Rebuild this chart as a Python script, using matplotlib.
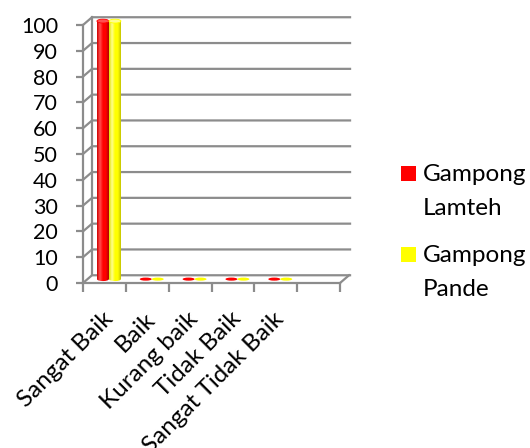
import numpy as np
import matplotlib
matplotlib.use('Agg')
import matplotlib.pyplot as plt
from matplotlib.patches import Ellipse, Rectangle
from matplotlib.colors import LinearSegmentedColormap
import matplotlib.transforms as mtransforms

plt.rcParams['font.family'] = ['Lato', 'DejaVu Sans']

categories = ['Sangat Baik', 'Baik', 'Kurang baik', 'Tidak Baik', 'Sangat Tidak Baik']
lamteh = [100, 0, 0, 0, 0]
pande = [100, 0, 0, 0, 0]
series_names = ['Gampong Lamteh', 'Gampong Pande']
y_ticks = np.arange(0, 101, 10)
n_slots = 6

# colours: base, left edge, highlight, right edge
shades = [('#ff0000', '#d00000', '#ff5050', '#b00000'),
          ('#ffff00', '#e0e000', '#ffff90', '#c4c400')]
grid_color = '#8c8c8c'
depth_x, depth_y = 0.21, 3.0   # offset of the back wall in data units
bar_w = 0.28


def cylinder(ax, xc, value, shade):
    base, left, light, right = shade
    yb = depth_y / 2
    cap = 1.5
    if value <= 0:
        ax.add_patch(Ellipse((xc, yb), bar_w, cap * 0.8, facecolor=base,
                             edgecolor='none', zorder=3))
        return
    cmap = LinearSegmentedColormap.from_list('cyl', [left, light, base, base, right])
    grad = np.linspace(0, 1, 64).reshape(1, -1)
    body = Rectangle((xc - bar_w / 2, yb), bar_w, value, transform=ax.transData)
    bottom = Ellipse((xc, yb), bar_w, cap, transform=ax.transData)
    for clip in (body, bottom):
        im = ax.imshow(grad, cmap=cmap, aspect='auto', zorder=3,
                       extent=(xc - bar_w / 2, xc + bar_w / 2, yb - cap, yb + value))
        im.set_clip_path(clip)
    ax.add_patch(Ellipse((xc, yb + value), bar_w, cap, facecolor=light,
                         edgecolor=base, lw=0.6, zorder=4))


fig = plt.figure(figsize=(5.3, 4.48), dpi=100)
ax = fig.add_axes([72.3 / 530, (448 - 295.9) / 448, 287.0 / 530, 286.4 / 448])

# back wall grid with the short diagonals to the front axis
for y in y_ticks:
    ax.plot([0, depth_x, n_slots + depth_x + 0.05], [y, y + depth_y, y + depth_y],
            color=grid_color, lw=1.6, zorder=1, solid_capstyle='butt')
ax.plot([depth_x, depth_x], [depth_y, 100 + depth_y], color=grid_color, lw=1.6, zorder=1)
ax.plot([n_slots, n_slots + depth_x], [0, depth_y], color=grid_color, lw=1.6, zorder=1)

centers = np.arange(len(categories)) + 0.5 + depth_x / 2
for xc, a, b in zip(centers, lamteh, pande):
    cylinder(ax, xc - bar_w / 2, a, shades[0])
    cylinder(ax, xc + bar_w / 2, b, shades[1])

ax.set_xlim(-0.25, 6.45)
ax.set_ylim(-5, 106)

for side in ('top', 'right'):
    ax.spines[side].set_visible(False)
ax.spines['left'].set_position(('data', 0))
ax.spines['left'].set_bounds(0, 100)
ax.spines['bottom'].set_position(('data', 0))
ax.spines['bottom'].set_bounds(0, n_slots)
for side in ('left', 'bottom'):
    ax.spines[side].set_color(grid_color)
    ax.spines[side].set_linewidth(1.6)
    ax.spines[side].set_zorder(2)

ax.set_yticks(y_ticks)
ax.tick_params(axis='y', length=5, width=1.6, color=grid_color, pad=13,
               labelsize=15.5, labelcolor='black')
ax.set_xticks(np.arange(n_slots + 1))
ax.set_xticklabels([])
ax.tick_params(axis='x', which='major', length=6.5, width=1.6, color=grid_color)
ax.set_xticks(centers, minor=True)
labels = ax.set_xticklabels(categories, minor=True, rotation=45, ha='right', va='top',
                            rotation_mode='anchor', fontsize=17.5)
ax.tick_params(axis='x', which='minor', length=0, pad=18)
shift = mtransforms.ScaledTranslation(-0.07, 0, fig.dpi_scale_trans)
for lbl in labels:
    lbl.set_transform(lbl.get_transform() + shift)

# legend, each name broken over two lines
for i, (name, shade) in enumerate(zip(series_names, shades)):
    top = 166 + i * 81
    fig.add_artist(Rectangle((401 / 530, 1 - (top + 15) / 448), 15 / 530, 15 / 448,
                             transform=fig.transFigure, facecolor=shade[0],
                             edgecolor='none'))
    for j, word in enumerate(name.split(' ')):
        fig.text(423 / 530, 1 - (top + 15 + j * 34) / 448, word, fontsize=17.5,
                 va='baseline', ha='left')

fig.savefig('out.png', dpi=100)
